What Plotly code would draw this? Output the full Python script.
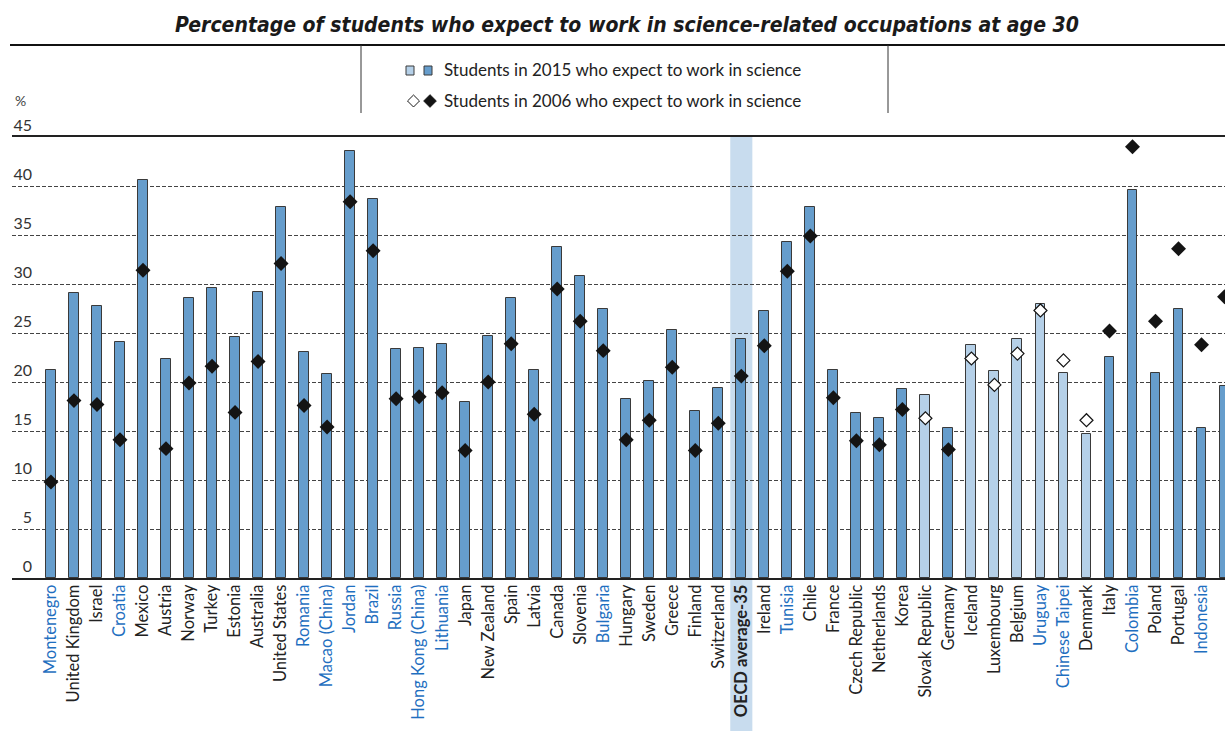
import plotly.graph_objects as go

categories = ["Montenegro", "United Kingdom", "Israel", "Croatia", "Mexico", "Austria", "Norway", "Turkey",
              "Estonia", "Australia", "United States", "Romania", "Macao (China)", "Jordan", "Brazil", "Russia",
              "Hong Kong (China)", "Lithuania", "Japan", "New Zealand", "Spain", "Latvia", "Canada", "Slovenia",
              "Bulgaria", "Hungary", "Sweden", "Greece", "Finland", "Switzerland", "OECD average-35", "Ireland",
              "Tunisia", "Chile", "France", "Czech Republic", "Netherlands", "Korea", "Slovak Republic", "Germany",
              "Iceland", "Luxembourg", "Belgium", "Uruguay", "Chinese Taipei", "Denmark", "Italy", "Colombia",
              "Poland", "Portugal", "Indonesia", "Thailand"]

students_2015 = [21.2, 29.1, 27.8, 24.1, 40.6, 22.3, 28.6, 29.6, 24.6, 29.2, 37.9, 23.1, 20.8, 43.6, 38.7, 23.4,
                 23.5, 23.9, 18.0, 24.7, 28.6, 21.2, 33.8, 30.8, 27.4, 18.3, 20.1, 25.3, 17.0, 19.4, 24.4, 27.2,
                 34.3, 37.9, 21.2, 16.8, 16.3, 19.3, 18.7, 15.3, 23.8, 21.1, 24.4, 28.0, 20.9, 14.7, 22.6, 39.6,
                 20.9, 27.4, 15.3, 19.6]

students_2006 = [9.8, 18.1, 17.7, 14.1, 31.4, 13.2, 19.9, 21.6, 16.9, 22.1, 32.1, 17.6, 15.4, 38.4, 33.4, 18.3,
                 18.5, 18.9, 13.0, 20.0, 23.9, 16.7, 29.5, 26.2, 23.2, 14.1, 16.1, 21.5, 13.0, 15.8, 20.6, 23.7,
                 31.3, 34.9, 18.4, 14.0, 13.6, 17.2, 16.3, 13.1, 22.4, 19.7, 22.9, 27.3, 22.2, 16.1, 25.2, 44.0,
                 26.2, 33.6, 23.8, 28.7]

# Countries where the 2015-2006 difference is not significant (light bars, open diamonds)
not_significant = ["Slovak Republic", "Iceland", "Luxembourg", "Belgium", "Uruguay", "Chinese Taipei", "Denmark"]

partners = ["Montenegro", "Croatia", "Romania", "Macao (China)", "Jordan", "Brazil", "Russia", "Hong Kong (China)",
            "Lithuania", "Bulgaria", "Tunisia", "Uruguay", "Chinese Taipei", "Colombia", "Indonesia", "Thailand"]

average_label = "OECD average-35"
y_ticks = [0, 5, 10, 15, 20, 25, 30, 35, 40, 45]

DARK = "#669dcc"
LIGHT = "#b5d0e8"
BLUE_TXT = "#1f6fc0"

x_idx = list(range(len(categories)))
bar_colors = [LIGHT if c in not_significant else DARK for c in categories]
dia_fill = ["white" if c in not_significant else "#141414" for c in categories]
dia_lw = [1.2 if c in not_significant else 0 for c in categories]
dia_size = [10 if c in not_significant else 11.5 for c in categories]

def tick_text(c):
    if c == average_label:
        return "<b>" + c + "</b>"
    if c in partners:
        return '<span style="color:%s">%s</span>' % (BLUE_TXT, c)
    return c

fig = go.Figure()
fig.add_trace(go.Bar(x=x_idx, y=students_2015, width=0.43,
                     marker=dict(color=bar_colors, line=dict(color="#3a3a3a", width=1)),
                     name="Students in 2015 who expect to work in science", showlegend=False))
fig.add_trace(go.Scatter(x=x_idx, y=students_2006, mode="markers",
                         marker=dict(symbol="diamond", size=dia_size, color=dia_fill, opacity=1,
                                     line=dict(color="#141414", width=dia_lw)),
                         name="Students in 2006 who expect to work in science", showlegend=False))

W, H = 1225, 731
ML, MR, MT, MB = 12, 0, 137, 153
PW, PH = W - ML - MR, H - MT - MB

def px(xp):
    return (xp - ML) / PW

def py(yp):
    return (H - MB - yp) / PH

avg_i = categories.index(average_label)
shapes = [
    dict(type="rect", xref="x", yref="paper", x0=avg_i - 0.48, x1=avg_i + 0.48, y0=-0.4, y1=1,
         fillcolor="#c8dcee", line=dict(width=0), layer="below"),
    dict(type="line", xref="paper", yref="paper", x0=px(10), x1=px(1225), y0=py(45), y1=py(45),
         line=dict(color="#111", width=2)),
    dict(type="line", xref="paper", yref="paper", x0=px(361), x1=px(361), y0=py(45), y1=py(113),
         line=dict(color="#333", width=1)),
    dict(type="line", xref="paper", yref="paper", x0=px(888), x1=px(888), y0=py(45), y1=py(113),
         line=dict(color="#333", width=1)),
    # legend squares
    dict(type="rect", xref="paper", yref="paper", x0=px(406), x1=px(414), y0=py(75), y1=py(66),
         fillcolor=LIGHT, line=dict(color="#3a3a3a", width=1)),
    dict(type="rect", xref="paper", yref="paper", x0=px(424), x1=px(432), y0=py(75), y1=py(66),
         fillcolor=DARK, line=dict(color="#3a3a3a", width=1)),
]

def diamond_path(cx, cy, r):
    return "M %f,%f L %f,%f L %f,%f L %f,%f Z" % (px(cx - r), py(cy), px(cx), py(cy - r),
                                                   px(cx + r), py(cy), px(cx), py(cy + r))

shapes.append(dict(type="path", xref="paper", yref="paper", path=diamond_path(413.5, 101, 6),
                   fillcolor="white", line=dict(color="#1a1a1a", width=1)))
shapes.append(dict(type="path", xref="paper", yref="paper", path=diamond_path(430, 101, 6.5),
                   fillcolor="#141414", line=dict(color="#141414", width=0.5)))

annotations = [
    dict(text="<b><i>Percentage of students who expect to work in science-related occupations at age 30</i></b>",
         xref="paper", yref="paper", x=px(627), y=py(25), xanchor="center", yanchor="middle", showarrow=False,
         font=dict(family="Liberation Sans Narrow, DejaVu Sans Condensed, sans-serif", size=21, color="#1a1a1a")),
    dict(text="Students in 2015 who expect to work in science", xref="paper", yref="paper",
         x=px(442), y=py(70), xanchor="left", yanchor="middle", showarrow=False,
         font=dict(family="Lato", size=17, color="#222")),
    dict(text="Students in 2006 who expect to work in science", xref="paper", yref="paper",
         x=px(442), y=py(100), xanchor="left", yanchor="middle", showarrow=False,
         font=dict(family="Lato", size=17, color="#222")),
    dict(text="%", xref="paper", yref="paper", x=px(13), y=py(101), xanchor="left", yanchor="middle",
         showarrow=False, font=dict(family="Lato", size=14, color="#444")),
]

fig.update_layout(
    width=W, height=H, margin=dict(l=ML, r=MR, t=MT, b=MB, pad=0),
    paper_bgcolor="white", plot_bgcolor="white",
    shapes=shapes, annotations=annotations, bargap=0,
    font=dict(family="Lato", color="#222"),
    xaxis=dict(range=[-1.693, 51.02], tickmode="array", tickvals=x_idx,
               ticktext=[tick_text(c) for c in categories], tickangle=-90,
               tickfont=dict(family="Lato", size=16.5, color="#222"), ticklabelstandoff=-2,
               showgrid=False, showline=True, mirror=True, linecolor="#222", linewidth=2,
               ticks="", zeroline=False, fixedrange=True),
    yaxis=dict(range=[0, 45], tickmode="array", tickvals=y_ticks,
               ticklabelposition="outside top", ticklabelstandoff=-21,
               tickfont=dict(family="Lato", size=16, color="#333"),
               showgrid=True, gridcolor="#444", gridwidth=1, griddash="4px,2px",
               zeroline=False, showline=False, ticks="", fixedrange=True),
)

fig.write_html("out.html", config={"displayModeBar": False},
               post_script="document.body.style.margin='0px';")
